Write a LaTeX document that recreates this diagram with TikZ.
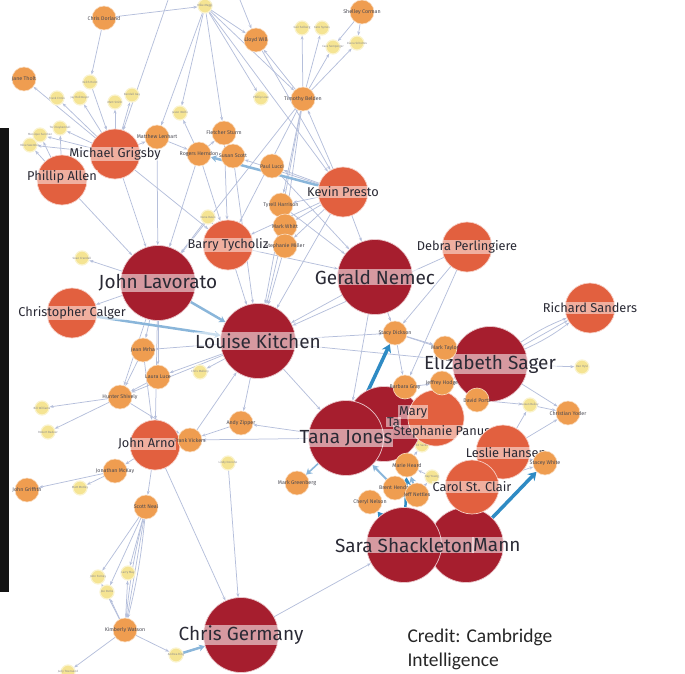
\documentclass[tikz,border=0pt]{standalone}
\usepackage{fontspec}
\setmainfont{Fira Sans}
\newfontfamily\credfont{Carlito}
\usetikzlibrary{arrows.meta}
\pgfdeclarelayer{background}
\pgfsetlayers{background,main}
\definecolor{cDark}{HTML}{A61E2E}
\definecolor{cMid}{HTML}{E2603F}
\definecolor{cOr}{HTML}{EF9D50}
\definecolor{cYel}{HTML}{F5E493}
\definecolor{cEdge}{HTML}{B5BFDB}
\definecolor{cBlue}{HTML}{2F8BC4}
\definecolor{cLight}{HTML}{8AB6DA}
\definecolor{cText}{HTML}{2A2A35}
\tikzset{
 dk/.style={circle, fill=cDark, draw=white!75!cDark, line width=0.7pt, minimum size=75pt, inner sep=0pt},
 md/.style={circle, fill=cMid, draw=white!70!cMid, line width=0.7pt, minimum size=50pt, inner sep=0pt},
 sm/.style={circle, fill=cOr, draw=white!65!cOr, line width=0.6pt, minimum size=24pt, inner sep=0pt},
 ye/.style={circle, fill=cYel, draw=white!55!cYel, line width=1.2pt, minimum size=14pt, inner sep=0pt},
 bl/.style={fill=white, fill opacity=0.55, text opacity=1, text=cText, inner sep=1pt, font=\fontsize{19}{19}\selectfont},
 ml/.style={fill=white, fill opacity=0.5, text opacity=1, text=cText, inner sep=0.8pt, font=\fontsize{12.8}{13}\selectfont},
 sl/.style={text=cText!85, inner sep=0.4pt, font=\fontsize{5.3}{6}\selectfont},
 yl/.style={text=cText!55, inner sep=0pt, font=\fontsize{3}{3.5}\selectfont},
 edge/.style={draw=cEdge, line width=0.75pt, -{Stealth[length=4pt,width=3pt]}},
 thickb/.style={draw=cBlue, line width=3.5pt, -{Stealth[length=8pt,width=10pt]}},
 thickl/.style={draw=cLight, line width=2.5pt, -{Stealth[length=6pt,width=7pt]}},
}
\begin{document}
\begin{tikzpicture}[x=1pt,y=-1pt]
\useasboundingbox (0,0) rectangle (685,674);
\fill[black!92] (0,128) rectangle (9,592);
% ---------- yellow nodes ----------
\foreach \n/\x/\y/\t in {ya/205/6/Mike Maggi, yb/90/82/Keith Holst, yc/57/98/Frank Ermis, yd/80/98/Jay Reitmeyer,
  ye/115/102/Matt Smith, yf/132/95/Randall Gay, yg/60/128/Tori Kuykendall, yh/40/135/Monique Sanchez,
  yi/30/145/Mike Swerzbin, yj/180/113/Jason Wolfe, yk/261/98/Phillip Love, yl/302/28/Geir Solberg,
  ym/322/28/Kate Symes, yn/333/47/Cara Semperger, yo/357/43/Diana Scholtes, yp/208/217/Dana Davis,
  yq/82/258/Sean Crandall, yr/42/408/Bill Williams, ys/48/432/Robert Badeer, yt/200/372/Chris Mallory,
  yu/80/488/Matt Motley, yv/98/577/John Forney, yw/128/573/Larry May, yx/107/592/Joe Parks,
  yy/68/672/Judy Townsend, yz/176/655/Andrea Ring, yA/228/463/Lindy Donoho, yB/582/367/Dan Hyvl,
  yC/530/405/Susan Bailey, yD/422/445/Ed Sacks, yE/432/477/Kay Young}
  \node[ye, label={[yl]center:\t}] (\n) at (\x,\y) {};
% ---------- big nodes ----------
\node[dk, label={[bl]center:John Lavorato}] (lav) at (158,283) {};
\node[dk, label={[bl]center:Louise Kitchen}] (kit) at (258,341) {};
\node[dk, label={[bl]center:Gerald Nemec}] (nem) at (375,277) {};
\node[dk, label={[bl]center:Elizabeth Sager}] (sag) at (490,364) {};
\node[dk] (tana2) at (384,424) {};
\node[dk, label={[bl]center:Tana Jones}] (tana) at (346,438) {};
\node[dk] (mann) at (466,545) {};
\node[bl, anchor=west] (mannlab) at (472,545) {Mann};
\node[dk, label={[bl]center:Sara Shackleton}] (sara) at (404,545) {};
\node[dk, label={[bl]center:Chris Germany}] (germ) at (241,635) {};
% ---------- medium nodes ----------
\node[md, label={[ml]center:Michael Grigsby}] (grig) at (115,154) {};
\node[md, label={[ml, yshift=3pt]center:Phillip Allen}] (allen) at (62,180) {};
\node[md, label={[ml]center:Kevin Presto}] (presto) at (343,192) {};
\node[md, label={[ml]center:Barry Tycholiz}] (tych) at (228,245) {};
\node[md, label={[ml]center:Debra Perlingiere}] (perl) at (467,247) {};
\node[md, label={[ml]center:Christopher Calger}] (calg) at (72,313) {};
\node[md, label={[ml]center:Richard Sanders}] (sand) at (590,308) {};
\node[md] (arn) at (155,445) {};
\node[ml, anchor=west] (arnlab) at (117,444) {John Arno};
\node[md, minimum size=56pt] (panus) at (436,418) {};
\node[ml, anchor=west] (talab) at (386,422) {Ta};
\node[ml, anchor=west] (marylab) at (398,412) {Mary};
\node[ml] (panuslab) at (442,432) {Stephanie Panus};
\node[md, minimum size=54pt] (hans) at (503,452) {};
\node[md, minimum size=54pt] (stclair) at (472,487) {};
\node[ml] (hanslab) at (506,453) {Leslie Hansen};
\node[ml] (stclairlab) at (472,487) {Carol St. Clair};
% ---------- small orange nodes ----------
\foreach \n/\x/\y/\t in {dorl/104/18/Chris Dorland, will/256/40/Lloyd Will, tholt/24/79/Jane Tholt,
  lenh/157/137/Matthew Lenhart, sturm/224/133/Fletcher Sturm, hern/199/154/Rogers Herndon,
  scott/233/156/Susan Scott, lucci/272/166/Paul Lucci, belden/303/99/Timothy Belden,
  harr/281/205/Tyrell Harrison, whitt/285/226/Mark Whitt, miller/285/246/Stephanie Miller,
  corman/362/12/Shelley Corman, mrha/143/350/Jean Mrha, luce/158/377/Laura Luce,
  shiv/120/397/Hunter Shively, vick/190/440/Frank Vickers, zipp/241/423/Andy Zipper,
  green/297/483/Mark Greenberg, mckay/115/471/Jonathan McKay, griff/27/490/John Griffith,
  neal/146/507/Scott Neal, kimb/125/630/Kimberly Watson, dick/395/333/Stacy Dickson,
  taylor/445/348/Mark Taylor, gray/405/387/Barbara Gray, hodge/442/383/Jeffrey Hodge,
  portz/477/400/David Portz, yoder/568/413/Christian Yoder, white/545/463/Stacey White,
  nelson/370/502/Cheryl Nelson, hendry/395/488/Brent Hendry, heard/407/465/Marie Heard,
  nettles/417/495/Jeff Nettles}
  \node[sm, label={[sl]center:\t}] (\n) at (\x,\y) {};
% ---------- credit ----------
\node[font=\credfont\fontsize{19.5}{24}\selectfont, text=black!85, align=left, anchor=west] (credit) at (404,649) {Credit: Cambridge\\Intelligence};
% ---------- edges ----------
\begin{pgfonlayer}{background}
\coordinate (tA) at (240,0);
\coordinate (tB) at (168,0);
\foreach \a/\b in {dorl/ya, dorl/yb, ya/yj, ya/sturm, ya/will, ya/yk, ya/belden, ya/presto, ya/lenh,
  tA/will, tB/grig, yb/grig,
  grig/tholt, grig/yc, grig/yd, grig/ye, grig/yf, grig/yg, grig/yh, grig/yi, allen/yg, allen/yh, allen/yi,
  grig/lenh, lenh/hern, hern/yj, hern/sturm, presto/scott, presto/lucci, presto/harr, presto/belden,
  belden/will, belden/yl, belden/ym, belden/yn, belden/yo, corman/yo, corman/yn, belden/lav, belden/tych, belden/kit,
  belden/harr, belden/whitt, will/presto, presto/nem, presto/kit, presto/whitt, presto/miller, presto/tych,
  grig/lav, grig/tych, allen/lav, lenh/lav, hern/lav, sturm/tych, hern/tych, scott/kit, lucci/nem,
  lav/calg, tych/kit, tych/nem, whitt/kit, miller/kit, harr/nem, nem/kit, nem/dick, perl/dick, perl/gray,
  perl/kit, nem/tana, kit/sag, kit/tana, kit/zipp, kit/mrha, kit/luce, kit/shiv, vick/kit, kit/yt, kit/dick,
  lav/mrha, lav/shiv, lav/luce, lav/arn, lav/yq, yp/tych, yp/lav, shiv/yr, shiv/ys, mrha/shiv, luce/shiv,
  arn/vick, arn/neal, arn/mckay, mckay/griff, mckay/yu, neal/yv, neal/yw, neal/yx, kimb/yy, kimb/yz,
  kimb/yv, kimb/yx, kimb/yw, arn/germ, yA/germ, germ/sara, tana/zipp, tana/gray, tana/vick, zipp/vick,
  sag/yoder, sag/yB, yC/yoder, sag/portz, sag/hodge, dick/gray, dick/taylor, dick/sag, taylor/sag,
  hans/white, stclair/white, hans/yoder, hans/yC, gray/hodge, portz/yC, shiv/vick, mrha/arn,
  heard/yD, yE/heard, nettles/yE}
  \draw[edge] (\a) -- (\b);
\draw[edge] (sag) to[bend left=6] (sand);
\draw[edge] (sag) -- (sand);
\draw[edge] (sag) to[bend right=6] (sand);
\draw[edge] (neal) to[bend left=4] (kimb);
\draw[edge] (neal) -- (kimb);
\draw[edge] (neal) to[bend right=4] (kimb);
\draw[thickl] (presto) -- (hern);
\draw[thickl] (lav) -- (kit);
\draw[thickl] (calg) -- (kit);
\draw[thickl] (yz) -- (germ);
\draw[thickl, line width=1.6pt] (tana) -- (green);
\draw[thickb] (tana) -- (dick);
\draw[thickb] (mann) -- (white);
\draw[thickb, line width=2.5pt] (sara) -- (nelson);
\draw[thickb, line width=2.5pt] (sara) -- (heard);
\draw[thickl, line width=2pt] (nettles) -- (heard);
\draw[thickb, line width=2.5pt] (mann) -- (stclair);
\draw[thickl, line width=2pt] (hendry) -- (tana);
\end{pgfonlayer}
\end{tikzpicture}
\end{document}
